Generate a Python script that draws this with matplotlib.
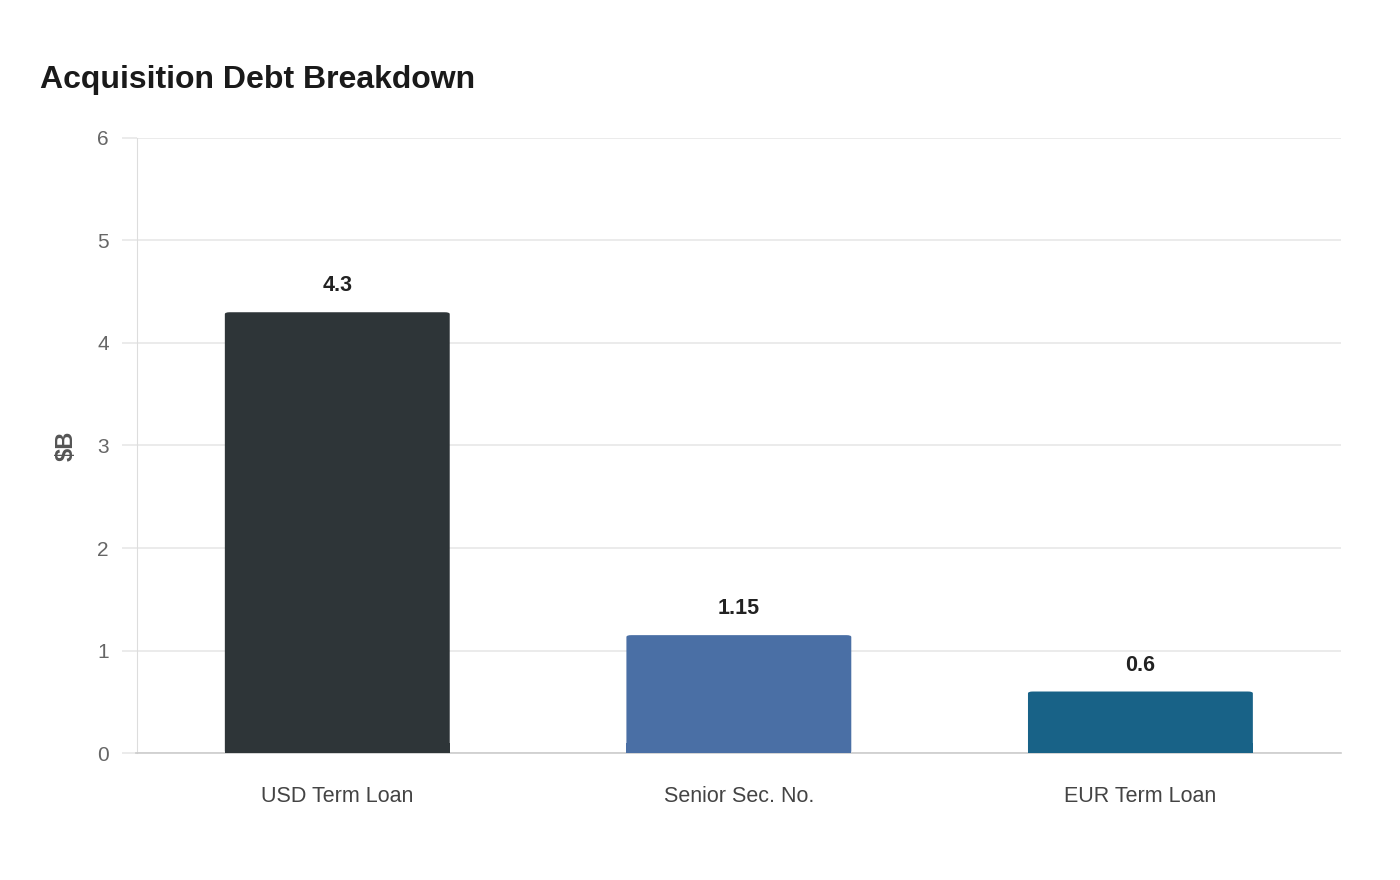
import matplotlib
matplotlib.use("Agg")
import matplotlib.pyplot as plt
from matplotlib.patches import FancyBboxPatch

categories = ["USD Term Loan", "Senior Sec. No.", "EUR Term Loan"]
values = [4.3, 1.15, 0.6]
value_labels = ["4.3", "1.15", "0.6"]
colors = ["#2e3538", "#4a6fa5", "#186287"]
yticks = [0, 1, 2, 3, 4, 5, 6]

plt.rcParams['font.family'] = ['Liberation Sans', 'DejaVu Sans']

fig = plt.figure(figsize=(14, 8.8), dpi=100)
ax = fig.add_axes([0.0975, 0.1443, 0.8605, 0.6989])

x = list(range(len(categories)))
width = 0.56
bars = ax.bar(x, values, width=width, color=colors, zorder=3)

# rounded top corners
for b, c in zip(bars, colors):
    b.set_visible(False)
    px, py = b.get_x(), b.get_y()
    w, h = b.get_width(), b.get_height()
    p = FancyBboxPatch((px, py), w, h, boxstyle="round,pad=0,rounding_size=0.012",
                       mutation_aspect=1.5,
                       facecolor=c, edgecolor="none", zorder=3)
    ax.add_patch(p)
    ax.bar(px + w / 2, min(h, 0.1), width=w, color=c, zorder=3)

for xi, v, lab in zip(x, values, value_labels):
    ax.annotate(lab, (xi, v), xytext=(0, 11.5), textcoords="offset points",
                ha="center", va="bottom", fontsize=15.5, fontweight="bold", color="#222222")

ax.set_xlim(-0.5, len(categories) - 0.5)
ax.set_ylim(0, 6)
ax.set_yticks(yticks)
ax.set_yticklabels([str(t) for t in yticks])
ax.set_xticks(x)
ax.set_xticklabels(categories)

ax.grid(axis="y", color="#e8e8e8", linewidth=1.2, zorder=0)
ax.set_axisbelow(True)
for s in ["top", "right"]:
    ax.spines[s].set_visible(False)
ax.spines["left"].set_color("#dddddd")
ax.spines["bottom"].set_color("#cccccc")
ax.spines["bottom"].set_linewidth(1.2)

ax.tick_params(axis="y", length=11, color="#e8e8e8", width=1.2, labelsize=15,
               labelcolor="#666666", pad=9)
ax.tick_params(axis="x", length=0, labelsize=15.5, labelcolor="#444444", pad=23.5)

ax.set_ylabel("$B", fontsize=17, fontweight="bold", color="#555555", labelpad=14)

fig.text(40 / 1400, 1 - 80 / 880, "Acquisition Debt Breakdown", fontsize=23,
         fontweight="bold", color="#1a1a1a", ha="left", va="center")

fig.savefig("out.png", dpi=100, facecolor="white")
